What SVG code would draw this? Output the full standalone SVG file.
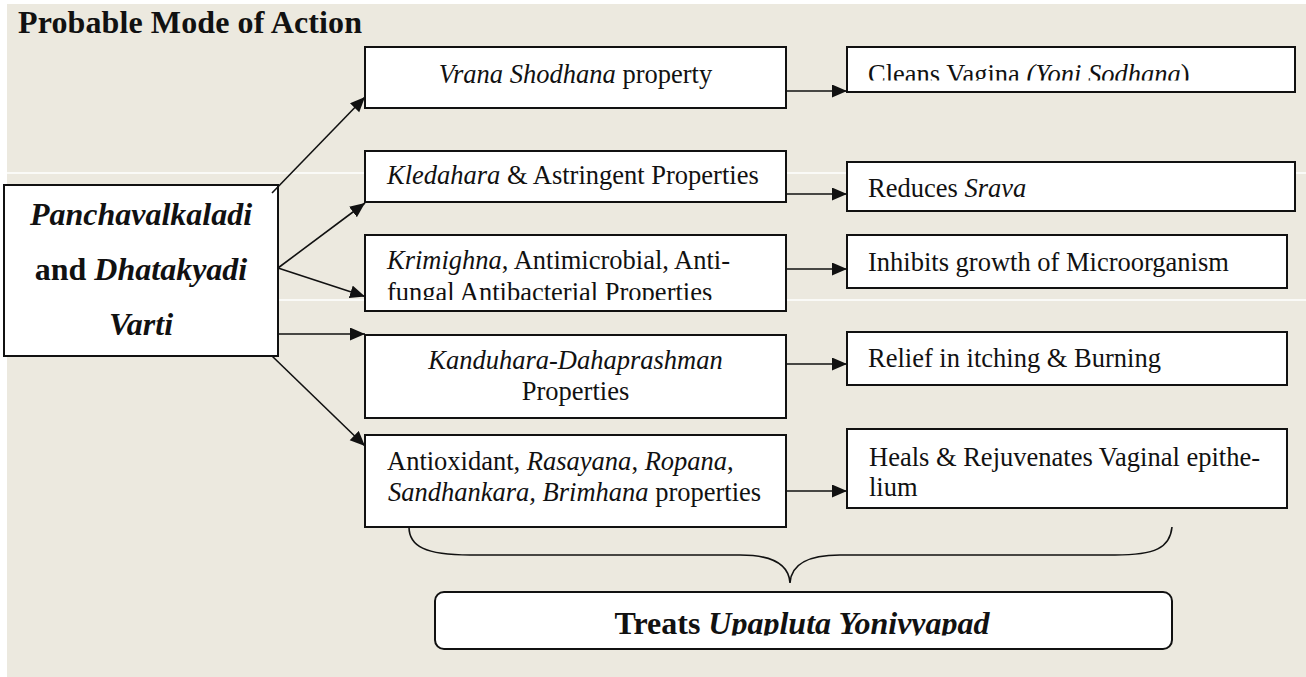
<svg xmlns="http://www.w3.org/2000/svg" width="1306" height="677" viewBox="0 0 1306 677">
<style>
.bg{fill:#ECE9DF}
.box{fill:#fff;stroke:#111;stroke-width:2}
.t{font-family:"Liberation Serif","Times New Roman",serif;font-size:26.5px;fill:#111}
.big{font-family:"Liberation Serif","Times New Roman",serif;font-size:32px;font-weight:bold;fill:#111}
.i{font-style:italic}
.c{text-anchor:middle}
.con{stroke:#111;stroke-width:1.6;fill:none}
.sep{stroke:#fff;stroke-width:1.5}
</style>
<defs>
<marker id="ah" markerUnits="userSpaceOnUse" markerWidth="16" markerHeight="14" refX="15" refY="6.5" orient="auto">
<path d="M0,0 L15,6.5 L0,13 z" fill="#111"/>
</marker>
<clipPath id="c1"><rect x="847" y="47" width="448" height="33.5"/></clipPath>
<clipPath id="c3"><rect x="365" y="235" width="421" height="65"/></clipPath>
<clipPath id="c6"><rect x="435" y="592" width="737" height="43.5"/></clipPath>
</defs>
<rect class="bg" x="7" y="4" width="1299" height="673"/>
<line class="sep" x1="7" y1="173" x2="1306" y2="173"/>
<line class="sep" x1="7" y1="300" x2="1306" y2="300"/>
<text class="big" x="18" y="33" font-size="29" textLength="344">Probable Mode of Action</text>

<g id="source">
<rect class="box" x="4" y="185" width="274" height="171"/>
<text class="big c" x="141" y="225"><tspan class="i">Panchavalkaladi</tspan></text>
<text class="big c" x="141" y="280">and <tspan class="i">Dhatakyadi</tspan></text>
<text class="big c" x="141" y="335"><tspan class="i">Varti</tspan></text>
</g>

<g id="vrana">
<rect class="box" x="365" y="47" width="421" height="61"/>
<text class="t c" x="575.5" y="83"><tspan class="i">Vrana Shodhana</tspan> property</text>
</g>
<g id="kledahara">
<rect class="box" x="365" y="151" width="421" height="51"/>
<text class="t" x="387" y="184"><tspan class="i">Kledahara</tspan> &amp; Astringent Properties</text>
</g>
<g id="krimighna">
<rect class="box" x="365" y="235" width="421" height="76"/>
<g clip-path="url(#c3)">
<text class="t" x="387" y="269"><tspan class="i">Krimighna</tspan>, Antimicrobial, Anti-</text>
<text class="t" x="387" y="300.5">fungal Antibacterial Properties</text>
</g>
</g>
<g id="kanduhara">
<rect class="box" x="365" y="335" width="421" height="83"/>
<text class="t c i" x="575.5" y="369">Kanduhara-Dahaprashman</text>
<text class="t c" x="575.5" y="400">Properties</text>
</g>
<g id="antioxidant">
<rect class="box" x="365" y="435" width="421" height="92"/>
<text class="t" x="387" y="470">Antioxidant, <tspan class="i">Rasayana</tspan>, <tspan class="i">Ropana</tspan>,</text>
<text class="t" x="388" y="501"><tspan class="i">Sandhankara, Brimhana</tspan> properties</text>
</g>

<g id="cleans">
<rect class="box" x="847" y="47" width="448" height="45"/>
<text class="t" x="868" y="82.5" clip-path="url(#c1)">Cleans Vagina <tspan class="i">(Yoni Sodhana</tspan>)</text>
</g>
<g id="reduces">
<rect class="box" x="847" y="162" width="448" height="49"/>
<text class="t" x="868" y="197">Reduces <tspan class="i">Srava</tspan></text>
</g>
<g id="inhibits">
<rect class="box" x="847" y="235" width="440" height="53"/>
<text class="t" x="868" y="271">Inhibits growth of Microorganism</text>
</g>
<g id="relief">
<rect class="box" x="847" y="332" width="440" height="53"/>
<text class="t" x="868" y="367">Relief in itching &amp; Burning</text>
</g>
<g id="heals">
<rect class="box" x="847" y="429" width="440" height="79"/>
<text class="t" x="869" y="466">Heals &amp; Rejuvenates Vaginal epithe-</text>
<text class="t" x="869" y="496">lium</text>
</g>

<g id="treats">
<rect class="box" x="435" y="592" width="737" height="57" rx="9"/>
<text class="big c" x="802" y="633.5" font-size="31" clip-path="url(#c6)">Treats <tspan class="i">Upapluta Yonivyapad</tspan></text>
</g>

<g id="connectors">
<line class="con" x1="272" y1="193" x2="365" y2="97" marker-end="url(#ah)"/>
<line class="con" x1="278" y1="268" x2="365" y2="203" marker-end="url(#ah)"/>
<line class="con" x1="278" y1="268" x2="365" y2="296.5" marker-end="url(#ah)"/>
<line class="con" x1="278" y1="334" x2="365" y2="334" marker-end="url(#ah)"/>
<line class="con" x1="272" y1="356" x2="365" y2="446" marker-end="url(#ah)"/>
<line class="con" x1="786" y1="91" x2="847" y2="91" marker-end="url(#ah)"/>
<line class="con" x1="786" y1="194" x2="847" y2="194" marker-end="url(#ah)"/>
<line class="con" x1="786" y1="269" x2="847" y2="269" marker-end="url(#ah)"/>
<line class="con" x1="786" y1="364" x2="847" y2="364" marker-end="url(#ah)"/>
<line class="con" x1="786" y1="491" x2="847" y2="491" marker-end="url(#ah)"/>
<path class="con" d="M409,527 C409,546 425,555 470,555 L740,555 C775,555 789,566 790,583 C791,566 805,555 840,555 L1115,555 C1155,555 1170,548 1172,527"/>
</g>
</svg>
